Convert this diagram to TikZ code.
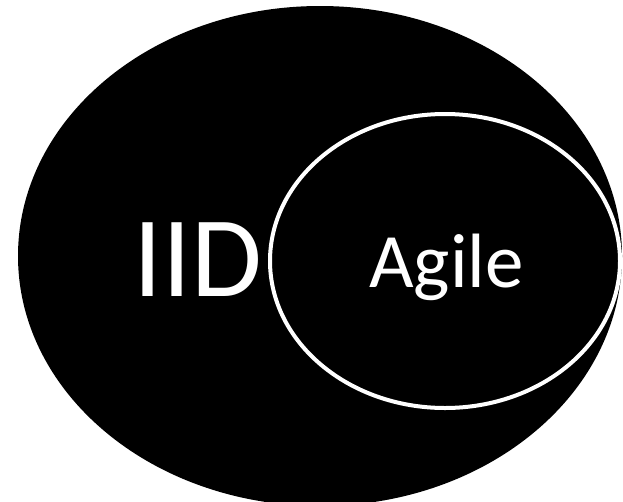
\documentclass[tikz,border=0pt]{standalone}
\usepackage{fontspec}
\setmainfont{Carlito}
\begin{document}
\begin{tikzpicture}[x=1pt,y=-1pt]
            \useasboundingbox (0,0) rectangle (623,501);
            \clip (0,0) rectangle (623,501);

            % outer set
            \fill[black] (320,256) ellipse [x radius=302, y radius=250];
            % inner set
            \draw[white, line width=4pt] (445,261) ellipse [x radius=175, y radius=147];

            \node[white, anchor=base] (iid) at (197.5,296) {\fontsize{115}{115}\selectfont IID};
            \node[white, anchor=base] (agile) at (446.5,287) {\fontsize{77}{77}\selectfont Agile};
        \end{tikzpicture}
\end{document}
